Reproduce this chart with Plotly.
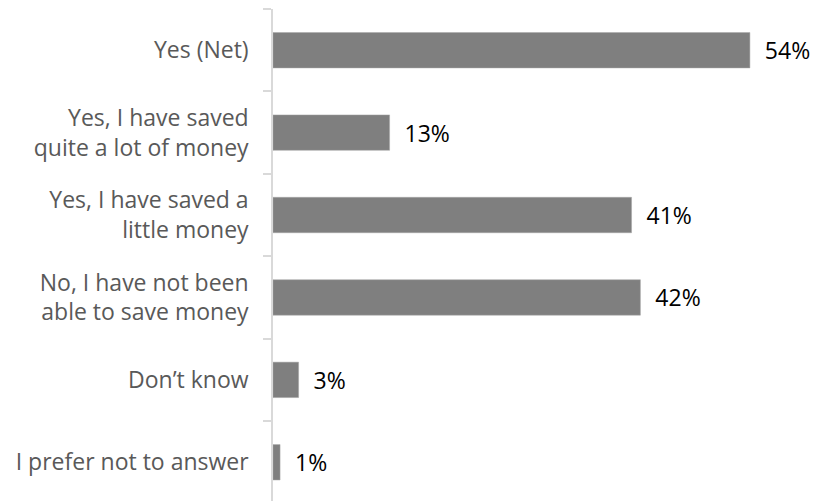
import plotly.graph_objects as go

categories = [
    "Yes (Net)",
    "Yes, I have saved<br>quite a lot of money",
    "Yes, I have saved a<br>little money",
    "No, I have not been<br>able to save money",
    "Don\u2019t know",
    "I prefer not to answer",
]
values = [54.0, 13.2, 40.6, 41.6, 2.9, 0.8]
value_labels = ["54%", "13%", "41%", "42%", "3%", "1%"]

fig = go.Figure(
    go.Bar(
        y=categories,
        x=values,
        orientation="h",
        marker=dict(color="#7f7f7f", line=dict(color="#a6a6a6", width=0.5)),
        text=["  " + t for t in value_labels],
        textposition="outside",
        textfont=dict(family="Open Sans", size=23, color="#000000"),
        cliponaxis=False,
        width=0.43,
        hoverinfo="skip",
    )
)

fig.update_layout(
    width=821,
    height=501,
    margin=dict(l=273, r=0, t=9, b=0),
    paper_bgcolor="white",
    plot_bgcolor="white",
    showlegend=False,
    font=dict(family="Open Sans", size=23, color="#595959"),
    xaxis=dict(
        range=[0, 62.05],
        visible=False,
        fixedrange=True,
    ),
    yaxis=dict(
        type="category",
        categoryorder="array",
        categoryarray=categories,
        range=[5.47, -0.5],
        showline=True,
        linecolor="#d9d9d9",
        linewidth=1.5,
        ticks="outside",
        tickson="boundaries",
        ticklen=8,
        tickcolor="#d9d9d9",
        tickwidth=1.5,
        showgrid=False,
        ticklabelstandoff=18,
        tickfont=dict(family="Open Sans", size=23, color="#595959"),
    ),
)

fig.write_html("out.html")
